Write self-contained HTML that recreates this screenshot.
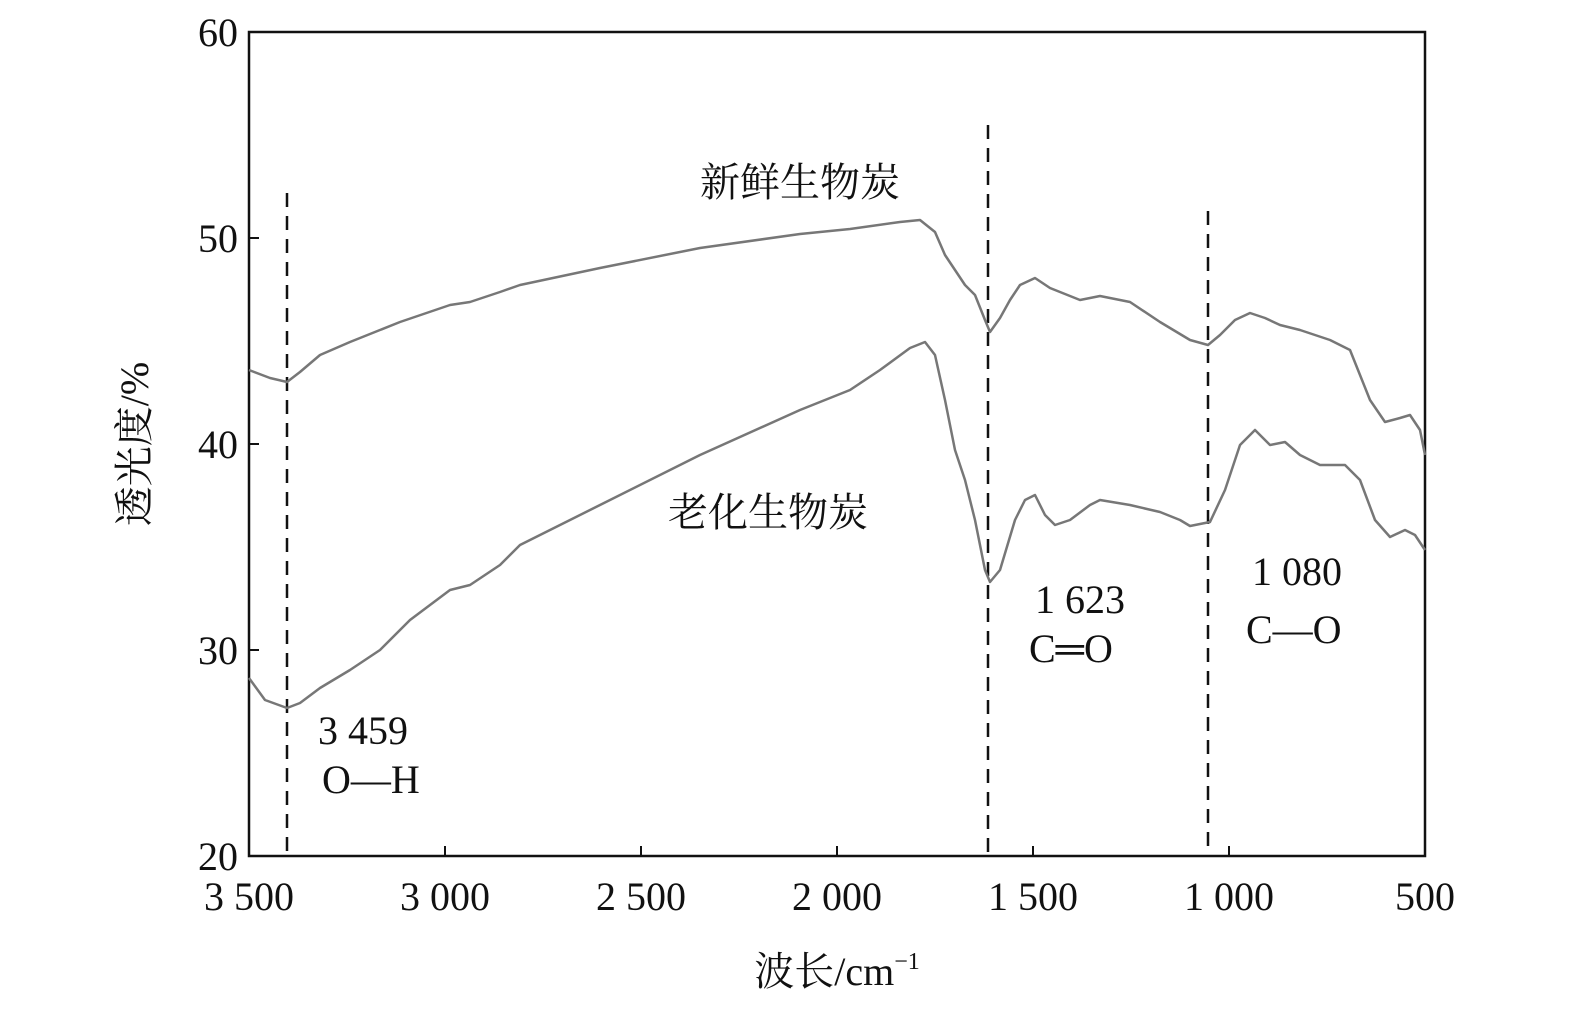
<!DOCTYPE html>
<html><head><meta charset="utf-8"><style>
html,body{margin:0;padding:0;background:#fff;}
svg text{font-family:"Liberation Serif","Noto Serif CJK SC",serif;fill:#111;}
</style></head><body>
<svg width="1575" height="1010" viewBox="0 0 1575 1010" xmlns="http://www.w3.org/2000/svg">
<rect x="249" y="32" width="1176" height="824" fill="none" stroke="#111" stroke-width="2.5"/>
<g stroke="#111" stroke-width="2">
<line x1="249" y1="238" x2="259" y2="238"/><line x1="249" y1="444" x2="259" y2="444"/><line x1="249" y1="650" x2="259" y2="650"/>
<line x1="445" y1="856" x2="445" y2="846"/><line x1="641" y1="856" x2="641" y2="846"/><line x1="837" y1="856" x2="837" y2="846"/><line x1="1033" y1="856" x2="1033" y2="846"/><line x1="1229" y1="856" x2="1229" y2="846"/>
</g>
<g font-size="40" text-anchor="end">
<text x="238" y="46">60</text><text x="238" y="252">50</text><text x="238" y="458">40</text><text x="238" y="664">30</text><text x="238" y="870">20</text>
</g>
<g font-size="40" text-anchor="middle">
<text x="249" y="910">3 500</text><text x="445" y="910">3 000</text><text x="641" y="910">2 500</text><text x="837" y="910">2 000</text><text x="1033" y="910">1 500</text><text x="1229" y="910">1 000</text><text x="1425" y="910">500</text>
</g>
<text x="837" y="985" font-size="40" text-anchor="middle">波长/cm<tspan font-size="24" dy="-16">−1</tspan></text>
<text transform="translate(148,444) rotate(-90)" font-size="40" text-anchor="middle">透光度/%</text>
<g stroke="#111" stroke-width="2.5" stroke-dasharray="14,9">
<line x1="287" y1="193" x2="287" y2="856"/><line x1="988" y1="125" x2="988" y2="856"/><line x1="1208" y1="211" x2="1208" y2="856"/>
</g>
<g fill="none" stroke="#777" stroke-width="2.5" stroke-linejoin="round">
<polyline points="249,370 270,378 287,382 300,372 320,355 350,342 400,322 450,305 470,302 500,292 520,285 600,268 700,248 800,234 850,229 900,222 920,220 935,232 945,255 955,270 965,285 975,295 985,320 990,332 1000,318 1010,300 1020,285 1035,278 1050,288 1080,300 1100,296 1130,302 1160,322 1190,340 1208,345 1220,335 1235,320 1250,313 1265,318 1280,325 1300,330 1330,340 1350,350 1360,375 1370,400 1385,422 1400,418 1410,415 1420,430 1425,455"/>
<polyline points="249,678 265,700 287,708 300,703 320,688 350,670 380,650 410,620 450,590 470,585 500,565 520,545 600,505 700,455 800,410 850,390 880,370 910,348 925,342 935,355 945,400 955,450 965,480 975,520 985,570 990,582 1000,570 1015,520 1025,500 1035,495 1045,515 1055,525 1070,520 1090,505 1100,500 1130,505 1160,512 1180,520 1190,526 1210,522 1225,490 1240,445 1255,430 1270,445 1285,442 1300,455 1320,465 1345,465 1360,480 1375,520 1390,537 1405,530 1415,535 1425,550"/>
</g>
<g font-size="40">
<text x="700" y="196">新鲜生物炭</text>
<text x="668" y="526">老化生物炭</text>
<text x="318" y="744">3 459</text><text x="322" y="793">O—H</text>
<text x="1035" y="613">1 623</text><text x="1029" y="662">C═O</text>
<text x="1252" y="585">1 080</text><text x="1246" y="643">C—O</text>
</g>
</svg>
</body></html>
